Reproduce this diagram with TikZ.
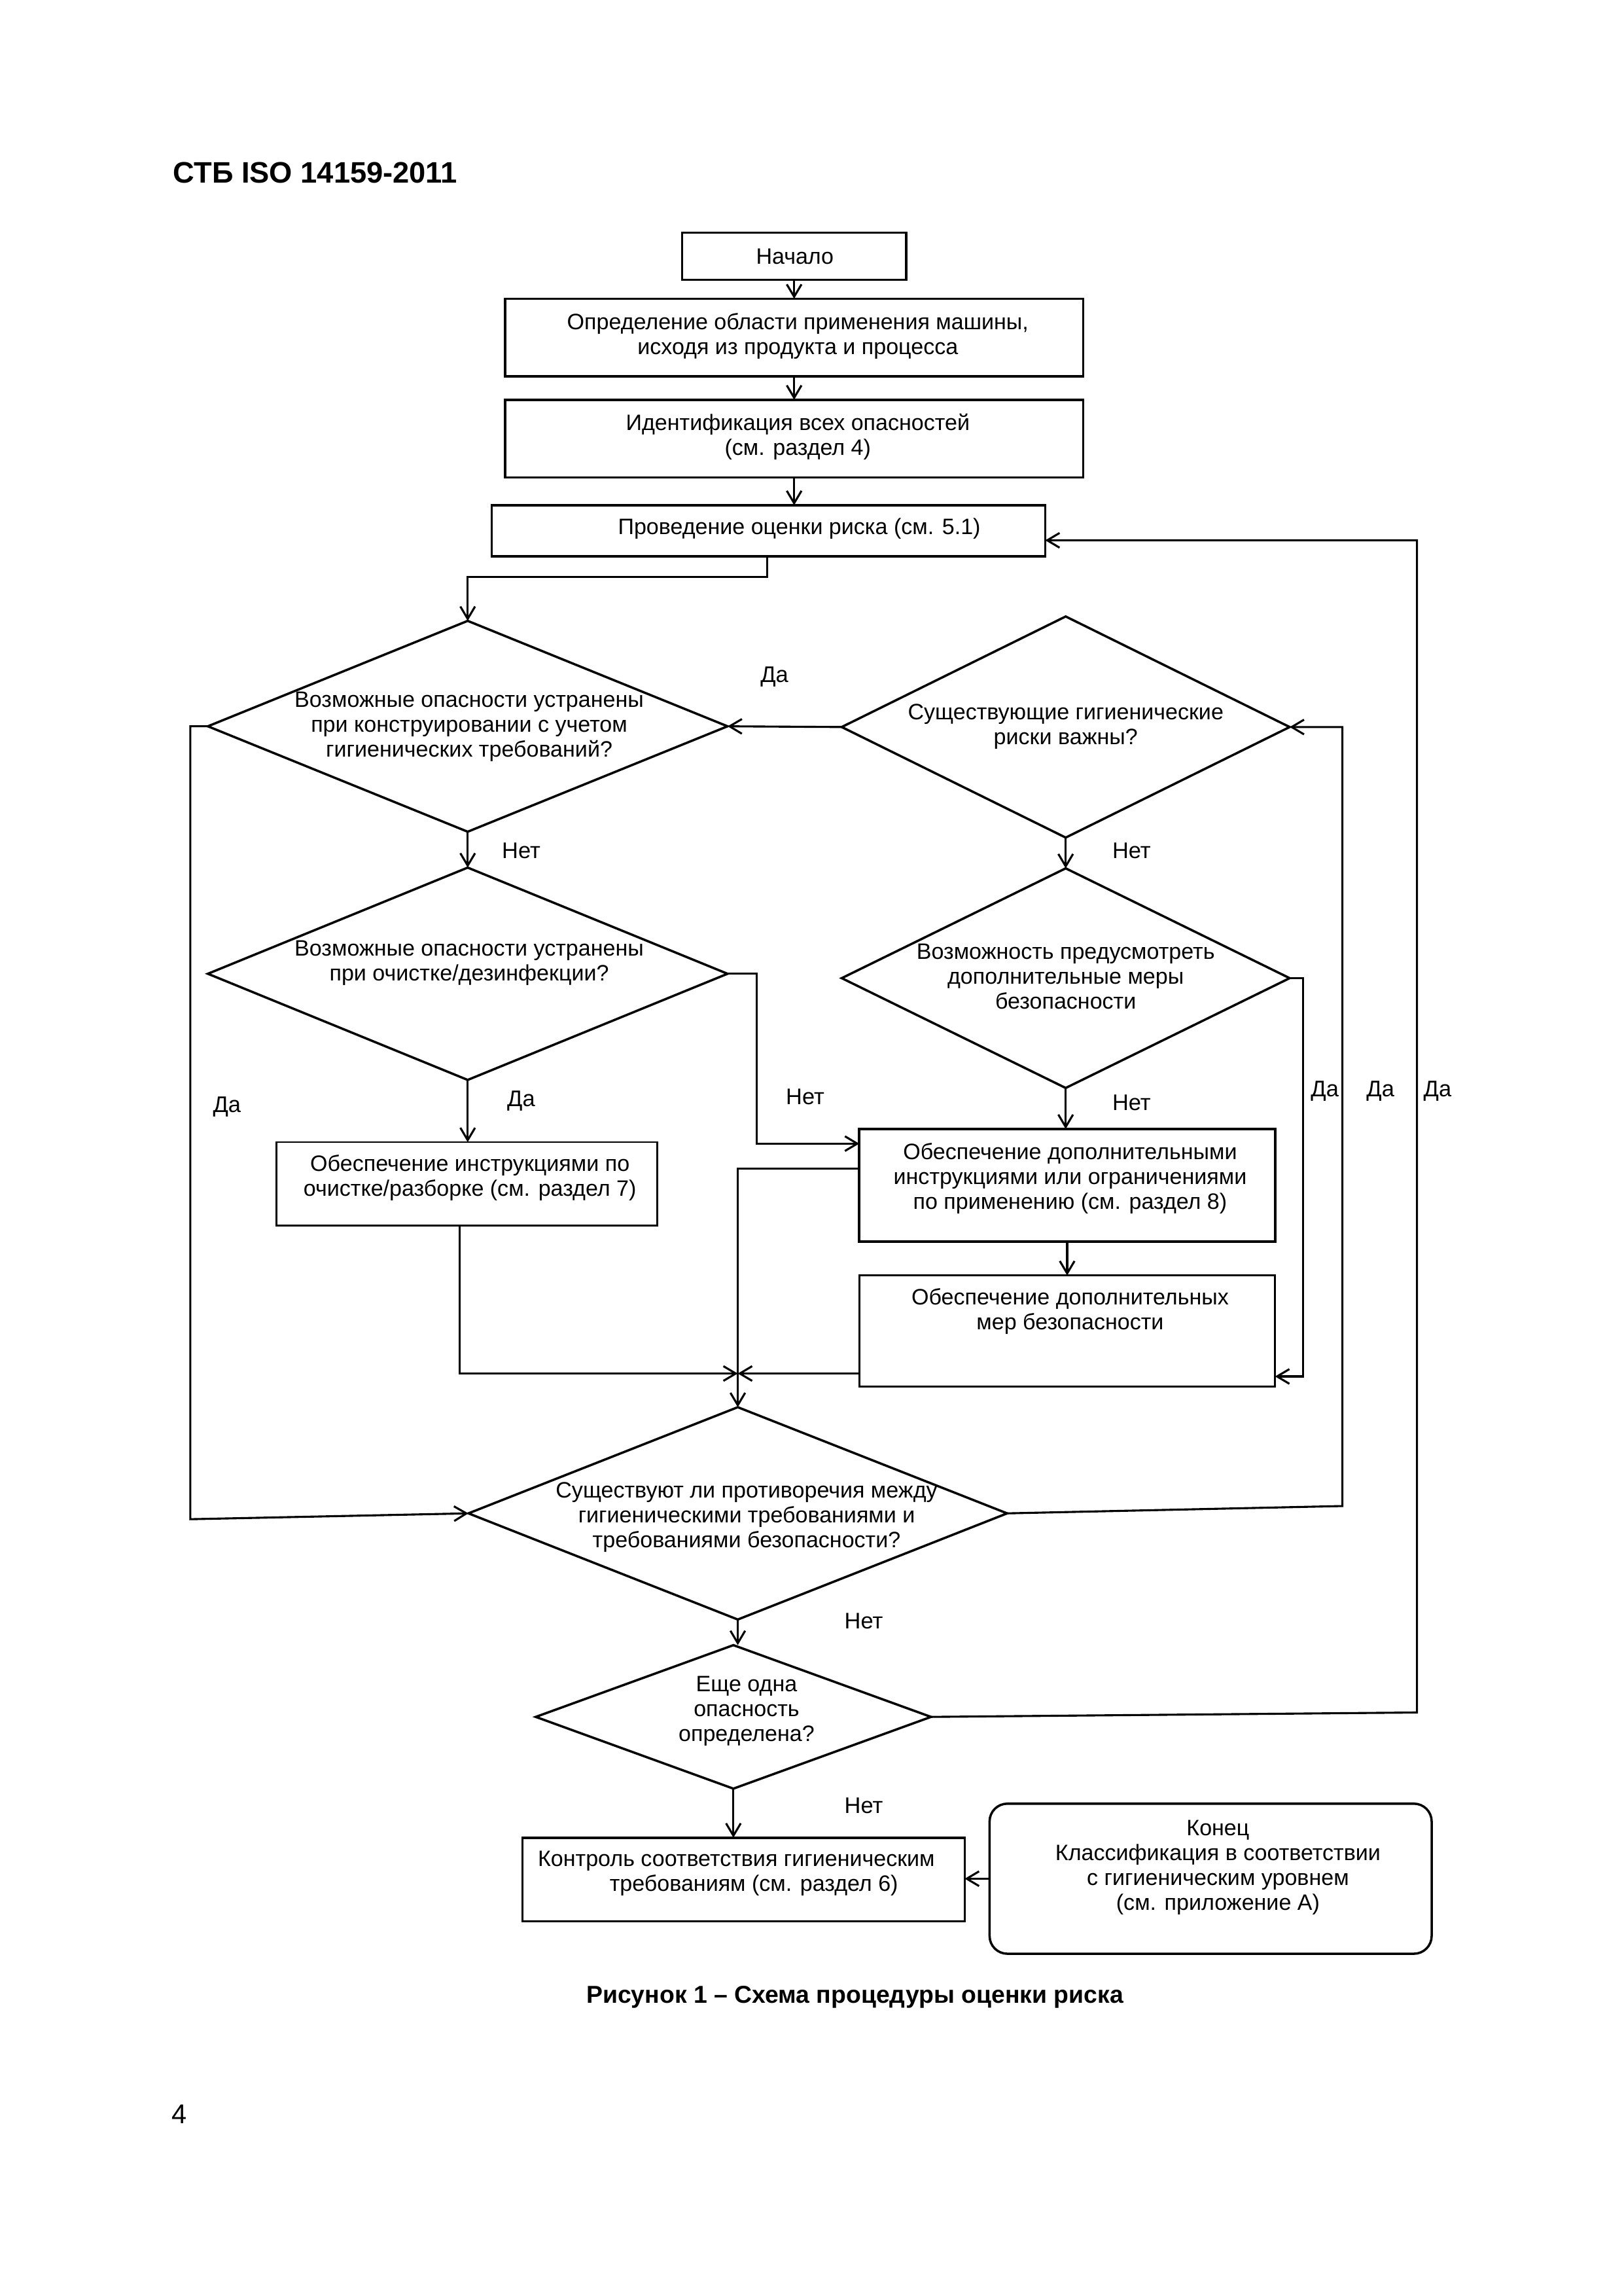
\documentclass[tikz,border=0pt]{standalone}
\usepackage{fontspec}
\setmainfont{Liberation Sans}
\usetikzlibrary{arrows.meta,shapes.geometric,calc}
\newlength{\myu}\setlength{\myu}{0.18936mm}
\begin{document}
\begin{tikzpicture}[x=0.18936mm, y=-0.18936mm,
  shp/.style={draw, line width=0.85pt, inner sep=0pt, outer sep=0pt},
  box/.style={shp, rectangle},
  dia/.style={shp, diamond},
  txt/.style={font=\fontsize{8.2}{9.15}\selectfont, align=center, inner sep=0pt},
  lbl/.style={font=\fontsize{8.3}{10}\selectfont, inner sep=0pt},
  line/.style={line width=0.75pt},
  conn/.style={line, -{Straight Barb[length=1.6mm,width=1.9mm]}}]
\fill[white] (0,0) rectangle (1109,1568);
\useasboundingbox (0,0) rectangle (1109,1568);

% header, caption, page number
\node[anchor=west, font=\bfseries\fontsize{10.9}{13}\selectfont, inner sep=0pt] (hdr) at (118,118) {СТБ ISO 14159-2011};
\node[font=\bfseries\fontsize{9}{11}\selectfont, inner sep=0pt] (cap) at (584,1364) {Рисунок 1 – Схема процедуры оценки риска};
\node[anchor=west, font=\fontsize{10}{12}\selectfont, inner sep=0pt] (pg) at (117,1444) {4};

% boxes
\node[box, minimum width=153*\myu, minimum height=32*\myu] (n1) at (542.5,175) {};
\node[txt] (t1) at (543,175) {Начало};
\node[box, minimum width=395*\myu, minimum height=53*\myu] (n2) at (542.5,230.5) {};
\node[txt] (t2) at (545,229.5) {Определение области применения машины,\\исходя из продукта и процесса};
\node[box, minimum width=395*\myu, minimum height=53*\myu] (n3) at (542.5,299.5) {};
\node[txt] (t3) at (545,298.5) {Идентификация всех опасностей\\(см. раздел 4)};
\node[box, minimum width=378*\myu, minimum height=35*\myu] (n4) at (525,362.5) {};
\node[txt] (t4) at (546,361) {Проведение оценки риска (см. 5.1)};

% diamonds
\node[dia, minimum width=355*\myu, minimum height=144*\myu] (d1) at (319.5,496) {};
\node[txt] (td1) at (320.5,496.5) {Возможные опасности устранены\\при конструировании с учетом\\гигиенических требований?};
\node[dia, minimum width=306*\myu, minimum height=151*\myu] (d2) at (728,496.5) {};
\node[txt] (td2) at (728,496) {Существующие гигиенические\\риски важны?};
\node[dia, minimum width=306*\myu, minimum height=150*\myu] (d3) at (728,668) {};
\node[txt] (td3) at (728,667) {Возможность предусмотреть\\дополнительные меры\\безопасности};
\node[dia, minimum width=355*\myu, minimum height=145*\myu] (d4) at (319.5,665) {};
\node[txt] (td4) at (320.5,657.5) {Возможные опасности устранены\\при очистке/дезинфекции?};

\node[box, line width=0.65pt, minimum width=260*\myu, minimum height=57*\myu] (b5) at (319,808.5) {};
\node[txt] (t5) at (321,804.5) {Обеспечение инструкциями по\\очистке/разборке (см. раздел 7)};
\node[box, line width=1pt, minimum width=284*\myu, minimum height=77*\myu] (b6) at (729,809.5) {};
\node[txt] (t6) at (731,805) {Обеспечение дополнительными\\инструкциями или ограничениями\\по применению (см. раздел 8)};
\node[box, minimum width=284*\myu, minimum height=76*\myu] (b7) at (729,909) {};
\node[txt] (t7) at (731,895.5) {Обеспечение дополнительных\\мер безопасности};

\node[dia, minimum width=368*\myu, minimum height=145*\myu] (d6) at (504,1033.5) {};
\node[txt] (td6) at (510,1036) {Существуют ли противоречия между\\гигиеническими требованиями и\\требованиями безопасности?};
\node[dia, minimum width=270*\myu, minimum height=98*\myu] (d7) at (501,1172.5) {};
\node[txt] (td7) at (510,1168.5) {Еще одна\\опасность\\определена?};

\node[box, minimum width=302*\myu, minimum height=57*\myu] (b8) at (508,1283.5) {};
\node[txt] (t8) at (503,1279.5) {Контроль соответствия гигиеническим\\\hspace*{24\myu}требованиям (см. раздел 6)};
\node[box, rounded corners=2.3mm, minimum width=302*\myu, minimum height=102.5*\myu] (b9) at (827,1283) {};
\node[txt] (t9) at (832,1275.5) {Конец\\Классификация в соответствии\\с гигиеническим уровнем\\(см. приложение А)};

\coordinate (m) at (504,938);

% connectors
\draw[conn] (n1.south) -- (n2.north);
\draw[conn] (n2.south) -- (n3.north);
\draw[conn] (n3.south) -- (n3.south |- n4.north);
\draw[conn] ($(n4.south)+(-1,0)$) -- ++(0,14) -| (d1.north);
\draw[conn] (d2.west) -- (d1.east);
\draw[conn] (d1.south) -- (d4.north);
\draw[conn] (d2.south) -- (d3.north);
\draw[conn] (d4.south) -- (d4.south |- b5.north);
\draw[conn] (d4.east) -- ++(20,0) |- ($(b6.west)+(0,-28.5)$);
\draw[line] ($(b6.west)+(0,-11.5)$) -| (m);
\draw[conn] ($(b5.south)+(-5,0)$) |- (m);
\draw[conn] ($(b7.west)+(0,29)$) -- (m);
\draw[conn] (m) -- (m |- d6.north);
\draw[conn] (d3.south) -- (d3.south |- b6.north);
\draw[conn] (b6.south) -- (b7.north);
\draw[conn] (d3.east) -- ++(9,0) |- ($(b7.east)+(0,31)$);
\draw[conn] (d6.east) -- ++(229,-5) |- (d2.east);
\draw[conn] (d7.east) -- ++(332,-3) |- ($(n4.east)+(0,6.5)$);
\draw[conn] (d1.west) -- ++(-12,0) -- ++(0,541.5) -- (d6.west);
\draw[conn] (d6.south) -- (d6.south |- d7.north);
\draw[conn] (d7.south) -- (d7.south |- b8.north);
\draw[conn] (b9.west) -- (b9.west -| b8.east);

% connector labels
\node[lbl] (l1) at (529,462) {Да};
\node[lbl] (l2) at (356,581) {Нет};
\node[lbl] (l3) at (773,581) {Нет};
\node[lbl] (l4) at (155,756) {Да};
\node[lbl] (l5) at (356,752) {Да};
\node[lbl] (l6) at (550,749) {Нет};
\node[lbl] (l7) at (773,753) {Нет};
\node[lbl] (l8) at (905,745) {Да};
\node[lbl] (l9) at (943,745) {Да};
\node[lbl] (l10) at (982,745) {Да};
\node[lbl] (l11) at (590,1107) {Нет};
\node[lbl] (l12) at (590,1233) {Нет};
\end{tikzpicture}
\end{document}
